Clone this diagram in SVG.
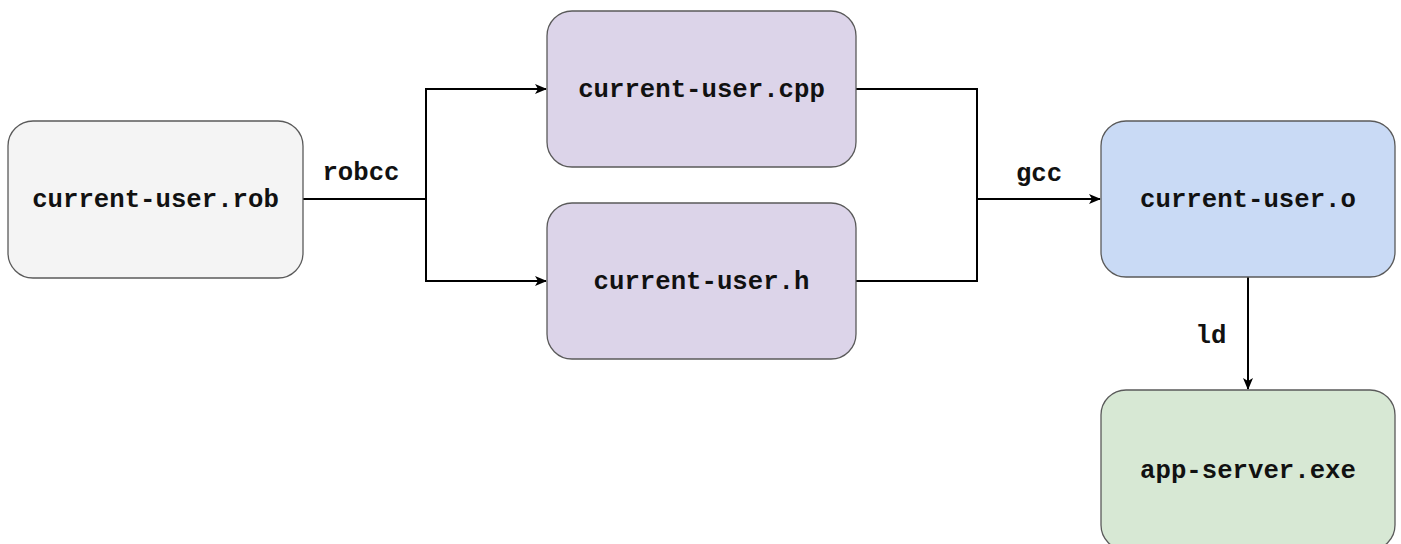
<svg xmlns="http://www.w3.org/2000/svg" width="1401" height="544" viewBox="0 0 1401 544">
<defs>
<style>
.node{stroke:#5a5a5a;stroke-width:1.3}
.lbl{font-family:"Liberation Mono","Courier New",monospace;font-weight:bold;font-size:25.7px;fill:#111;text-anchor:middle}
.edge{fill:none;stroke:#000;stroke-width:2}
</style>
<marker id="arr" viewBox="0 0 12 10" refX="11" refY="5" markerWidth="12" markerHeight="10" markerUnits="userSpaceOnUse" orient="auto">
<path d="M0,0 L12,5 L0,10 L3,5 Z" fill="#000"/>
</marker>
</defs>
<rect width="1401" height="544" fill="#fff"/>
<g id="connectors">
<path class="edge" d="M303,199 H426 V89 H546" marker-end="url(#arr)"/>
<path class="edge" d="M426,199 V281 H546" marker-end="url(#arr)"/>
<path class="edge" d="M856,89 H977 V199 H1100" marker-end="url(#arr)"/>
<path class="edge" d="M856,281 H977 V199"/>
<path class="edge" d="M1248,277 V389" marker-end="url(#arr)"/>
<text class="lbl" x="361" y="180">robcc</text>
<text class="lbl" x="1039" y="181">gcc</text>
<text class="lbl" x="1211" y="343">ld</text>
</g>
<g id="rob">
<rect class="node" x="8" y="121" width="295" height="157" rx="25" fill="#f4f4f4"/>
<text class="lbl" x="155.5" y="207">current-user.rob</text>
</g>
<g id="cpp">
<rect class="node" x="547" y="11" width="309" height="156" rx="25" fill="#dcd4e9"/>
<text class="lbl" x="701.5" y="97">current-user.cpp</text>
</g>
<g id="h">
<rect class="node" x="547" y="203" width="309" height="156" rx="25" fill="#dcd4e9"/>
<text class="lbl" x="701.5" y="289">current-user.h</text>
</g>
<g id="o">
<rect class="node" x="1101" y="121" width="294" height="156" rx="25" fill="#c9daf5"/>
<text class="lbl" x="1248" y="207">current-user.o</text>
</g>
<g id="exe">
<rect class="node" x="1101" y="390" width="294" height="160" rx="25" fill="#d7e8d4"/>
<text class="lbl" x="1248" y="478">app-server.exe</text>
</g>
</svg>
